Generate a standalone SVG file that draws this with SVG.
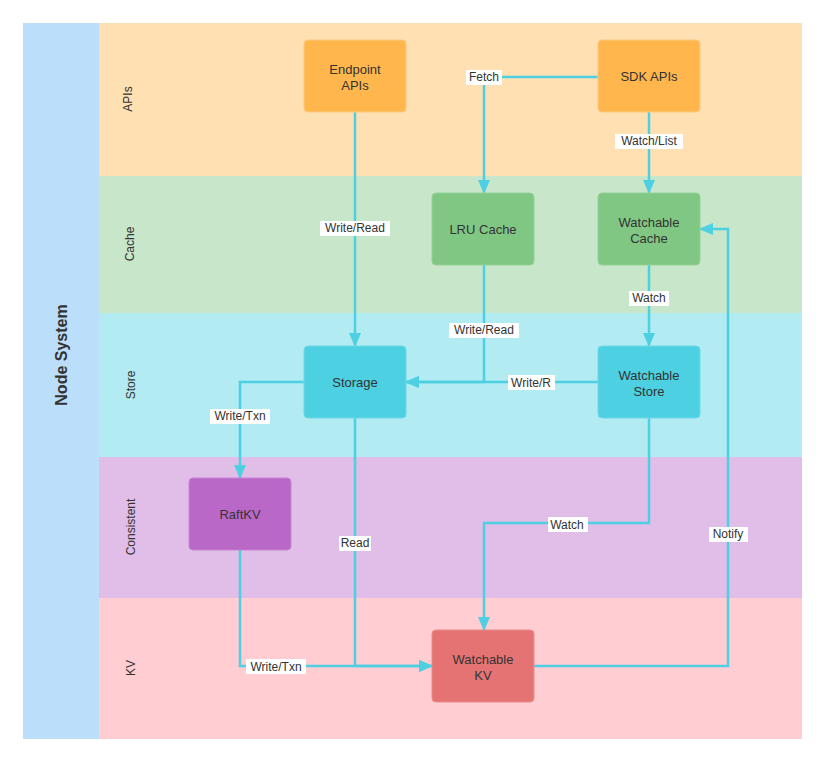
<svg xmlns="http://www.w3.org/2000/svg" width="825" height="762" viewBox="0 0 825 762">
<defs>
<marker id="arr" viewBox="0 0 14 12" refX="13" refY="6" markerWidth="14" markerHeight="12" markerUnits="userSpaceOnUse" orient="auto">
<path d="M0,0 L14,6 L0,12 Z" fill="#4DD0E1"/>
</marker>
<style>
.lane-t{font-family:"Liberation Sans",Arial,sans-serif;font-size:12px;fill:#333;text-anchor:middle;dominant-baseline:central}
.node-t{font-family:"Liberation Sans",Arial,sans-serif;font-size:13px;fill:#333;text-anchor:middle}
.edge{fill:none;stroke:#4DD0E1;stroke-width:2.5}
.lbl-bg{fill:#fff}
.lbl{font-family:"Liberation Sans",Arial,sans-serif;font-size:12px;fill:#333;text-anchor:middle;dominant-baseline:central}
.node{rx:4;ry:4;stroke-width:1}
</style>
</defs>
<rect width="825" height="762" fill="#fff"/>
<g id="pool">
<rect x="23" y="23" width="76" height="716" fill="#BBDEFB"/>
<text x="61" y="355" transform="rotate(-90 61 355)" font-family="'Liberation Sans',Arial,sans-serif" font-size="16" font-weight="bold" fill="#333" text-anchor="middle" dominant-baseline="central">Node System</text>
</g>
<g id="lanes">
<rect x="99" y="23" width="703" height="153" fill="#FFE0B2"/>
<rect x="99" y="176" width="703" height="137" fill="#C8E6C9"/>
<rect x="99" y="313" width="703" height="144" fill="#B2EBF2"/>
<rect x="99" y="457" width="703" height="141" fill="#E1BEE7"/>
<rect x="99" y="598" width="703" height="141" fill="#FFCDD2"/>
<text class="lane-t" x="128" y="99" transform="rotate(-90 128 99)">APIs</text>
<text class="lane-t" x="130" y="244" transform="rotate(-90 130 244)">Cache</text>
<text class="lane-t" x="131" y="385" transform="rotate(-90 131 385)">Store</text>
<text class="lane-t" x="131" y="527" transform="rotate(-90 131 527)">Consistent</text>
<text class="lane-t" x="131" y="668" transform="rotate(-90 131 668)">KV</text>
</g>
<g id="connectors">
<polyline class="edge" points="598,77 484,77 484,193" marker-end="url(#arr)"/>
<polyline class="edge" points="649,112 649,193" marker-end="url(#arr)"/>
<polyline class="edge" points="355,112 355,346" marker-end="url(#arr)"/>
<polyline class="edge" points="484,265 484,382 406,382" marker-end="url(#arr)"/>
<polyline class="edge" points="598,382 406,382" marker-end="url(#arr)"/>
<polyline class="edge" points="649,265 649,346" marker-end="url(#arr)"/>
<polyline class="edge" points="304,382 240,382 240,478" marker-end="url(#arr)"/>
<polyline class="edge" points="355,418 355,666 432,666" marker-end="url(#arr)"/>
<polyline class="edge" points="240,550 240,666 432,666" marker-end="url(#arr)"/>
<polyline class="edge" points="649,418 649,523 484,523 484,630" marker-end="url(#arr)"/>
<polyline class="edge" points="534,666 728,666 728,229 700,229" marker-end="url(#arr)"/>
<rect class="lbl-bg" x="466" y="70" width="36" height="15"/><text class="lbl" x="484" y="77">Fetch</text>
<rect class="lbl-bg" x="615" y="134" width="68" height="15"/><text class="lbl" x="649" y="141">Watch/List</text>
<rect class="lbl-bg" x="320" y="221" width="70" height="15"/><text class="lbl" x="355" y="228">Write/Read</text>
<rect class="lbl-bg" x="449" y="323" width="70" height="15"/><text class="lbl" x="484" y="330">Write/Read</text>
<rect class="lbl-bg" x="508" y="375" width="47" height="15"/><text class="lbl" x="531" y="383">Write/R</text>
<rect class="lbl-bg" x="629" y="291" width="40" height="15"/><text class="lbl" x="649" y="298">Watch</text>
<rect class="lbl-bg" x="210" y="409" width="60" height="15"/><text class="lbl" x="240" y="416">Write/Txn</text>
<rect class="lbl-bg" x="339" y="536" width="32" height="15"/><text class="lbl" x="355" y="543">Read</text>
<rect class="lbl-bg" x="246" y="659" width="60" height="15"/><text class="lbl" x="276" y="667">Write/Txn</text>
<rect class="lbl-bg" x="548" y="517" width="40" height="15"/><text class="lbl" x="567" y="525">Watch</text>
<rect class="lbl-bg" x="709" y="527" width="39" height="15"/><text class="lbl" x="728" y="534">Notify</text>
</g>
<g id="endpoint-apis">
<rect class="node" x="304" y="40" width="102" height="72" fill="#FFB74D" stroke="#FFC77D"/>
<text class="node-t" x="355" y="74">Endpoint</text>
<text class="node-t" x="355" y="90">APIs</text>
</g>
<g id="sdk-apis">
<rect class="node" x="598" y="40" width="102" height="72" fill="#FFB74D" stroke="#FFC77D"/>
<text class="node-t" x="649" y="81">SDK APIs</text>
</g>
<g id="lru-cache">
<rect class="node" x="432" y="193" width="102" height="72" fill="#81C784" stroke="#94D196"/>
<text class="node-t" x="483" y="234">LRU Cache</text>
</g>
<g id="watchable-cache">
<rect class="node" x="598" y="193" width="102" height="72" fill="#81C784" stroke="#94D196"/>
<text class="node-t" x="649" y="227">Watchable</text>
<text class="node-t" x="649" y="243">Cache</text>
</g>
<g id="storage">
<rect class="node" x="304" y="346" width="102" height="72" fill="#4DD0E1" stroke="#6ED9E7"/>
<text class="node-t" x="355" y="387">Storage</text>
</g>
<g id="watchable-store">
<rect class="node" x="598" y="346" width="102" height="72" fill="#4DD0E1" stroke="#6ED9E7"/>
<text class="node-t" x="649" y="380">Watchable</text>
<text class="node-t" x="649" y="396">Store</text>
</g>
<g id="raftkv">
<rect class="node" x="189" y="478" width="102" height="72" fill="#BA68C8" stroke="#C683D2"/>
<text class="node-t" x="240" y="519">RaftKV</text>
</g>
<g id="watchable-kv">
<rect class="node" x="432" y="630" width="102" height="72" fill="#E57373" stroke="#EB8B8B"/>
<text class="node-t" x="483" y="664">Watchable</text>
<text class="node-t" x="483" y="680">KV</text>
</g>
</svg>
